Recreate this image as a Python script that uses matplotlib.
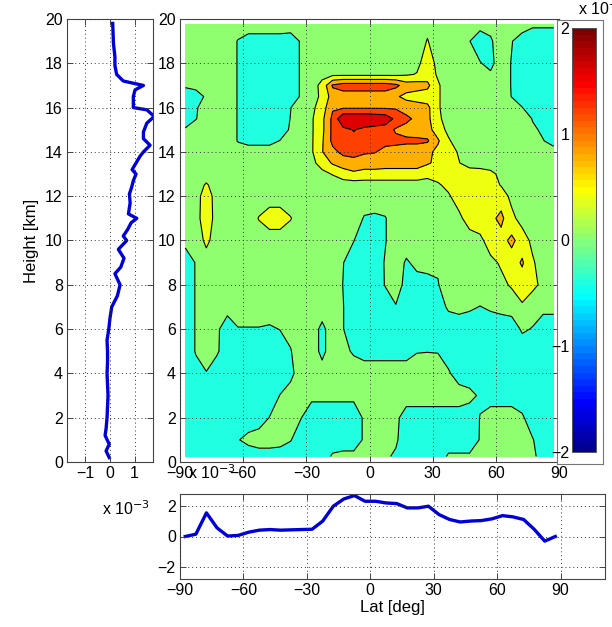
import numpy as np
import matplotlib
matplotlib.use("Agg")
import matplotlib.pyplot as plt
from matplotlib.colors import ListedColormap, Normalize
from matplotlib.cm import ScalarMappable

plt.rcParams['font.family'] = ['Liberation Sans', 'DejaVu Sans']
plt.rcParams['font.size'] = 11.5

# ---------------- data (units of 1e-3) ----------------
lat = [-87.5, -82.5, -77.5, -72.5, -67.5, -62.5, -57.5, -52.5, -47.5, -42.5,
       -37.5, -32.5, -27.5, -22.5, -17.5, -12.5, -7.5, -2.5, 2.5, 7.5,
       12.5, 17.5, 22.5, 27.5, 32.5, 37.5, 42.5, 47.5, 52.5, 57.5,
       62.5, 67.5, 72.5, 77.5, 82.5, 87.5]

height = [0.25, 1, 2, 3, 4, 5, 6, 7, 8, 9, 10, 11, 12, 12.5, 13, 13.5, 14,
          14.5, 15, 15.5, 16, 16.5, 17, 17.5, 18, 19, 19.75]

# field rows, bottom (0.25 km) to top (19.75 km), columns follow lat
field = [
    [-0.2]*14 + [0.05, 0.1, 0.1, 0.05, 0.05, 0.05, -0.05] + [-0.2]*4 + [0.05]*9 + [-0.1, -0.2],
    [-0.2]*5 + [-0.02, 0.1, 0.2, 0.2, 0.15, 0.02] + [-0.2]*6 + [0.05, 0.2, 0.2, 0.05] + [-0.2]*7 + [0.02, 0.2, 0.2, 0.1, 0.05, 0.02, -0.2, -0.2],
    [-0.2]*8 + [0.01, 0.2, 0.2, 0.01] + [-0.2]*5 + [0.05, 0.2, 0.2, 0.1] + [-0.2]*7 + [0.01, 0.2, 0.2, 0.2, 0.05] + [-0.2]*3,
    [-0.2]*9 + [0.01] + [0.08]*7 + [0.15] + [0.2]*9 + [0.1, -0.05] + [-0.2]*7,
    [-0.2, -0.1, -0.02] + [-0.2]*7 + [-0.05, 0.1, 0.2, 0.15] + [0.2]*11 + [0.05] + [-0.2]*10,
    [-0.2, 0.02, 0.2, 0.05] + [-0.2]*6 + [-0.02, 0.2, 0.2, -0.1, 0.2, 0.1, -0.05] + [-0.15]*5 + [-0.02, -0.01, -0.02] + [-0.2]*11,
    [-0.2, 0.02, 0.2, 0.05, -0.15, -0.02, -0.02, -0.02, -0.05, 0.01, 0.1, 0.2, 0.2, -0.1, 0.2, 0.01] + [-0.2]*16 + [0.05, -0.02, -0.1, -0.1],
    [-0.2, 0.02, 0.2, 0.05, 0.1] + [0.2]*10 + [0.01] + [-0.2]*4 + [-0.02] + [-0.15]*4 + [0.05, 0.1, 0.05, -0.01, 0.05, 0.1, 0.15, 0.35, 0.15, 0.05, 0.05],
    [-0.2, 0.02, 0.2, 0.1] + [0.2]*11 + [-0.01] + [-0.2]*3 + [0.02, 0.15, -0.1, -0.15, -0.1, -0.02] + [0.2]*5 + [0.3, 0.45, 0.6, 0.5, 0.3, 0.2],
    [-0.2, 0.02, 0.2, 0.15] + [0.2]*11 + [0.01] + [-0.2]*3 + [0.03, 0.2, -0.05, 0.1, 0.1, 0.05] + [0.2]*4 + [0.3, 0.45, 0.6, 0.85, 0.45, 0.2, 0.2],
    [0.1, 0.15, 0.5] + [0.2]*13 + [0.01, -0.2, -0.2, -0.02] + [0.2]*8 + [0.3, 0.6, 0.65, 0.9, 0.6, 0.3, 0.2, 0.2],
    [0.2, 0.2, 0.7] + [0.2]*4 + [0.42, 0.6, 0.6, 0.42] + [0.2]*6 + [-0.03, -0.06, -0.02] + [0.2]*6 + [0.3, 0.6, 0.65, 0.7, 0.9, 0.5, 0.25] + [0.2]*3,
    [0.2, 0.2, 0.65] + [0.2]*22 + [0.35, 0.6, 0.65, 0.65, 0.65, 0.6, 0.3] + [0.2]*4,
    [0.2, 0.2, 0.45] + [0.2]*20 + [0.25, 0.35, 0.5, 0.6, 0.6, 0.6, 0.55, 0.38] + [0.2]*5,
    [0.2]*13 + [0.3, 0.42, 0.6, 0.7] + [0.65]*6 + [0.5, 0.55, 0.6, 0.65, 0.65, 0.6, 0.5, 0.3] + [0.2]*5,
    [0.2]*12 + [0.3, 0.55, 0.85, 1.0, 1.1, 1.0, 1.0, 0.95, 0.95, 0.95, 0.95, 0.85, 0.7, 0.6, 0.42] + [0.2]*9,
    [0.2]*5 + [0.15]*5 + [0.2, 0.2, 0.35, 0.78, 1.1, 1.3, 1.3, 1.25, 1.22, 1.1, 1.05, 1.0, 1.0, 0.9, 0.7, 0.6, 0.35] + [0.2]*7 + [0.1, 0.1],
    [0.2]*5 + [-0.02] + [-0.1]*3 + [0.01, 0.2, 0.2, 0.35, 0.75, 1.3, 1.4, 1.5, 1.4, 1.35, 1.3, 1.3, 1.28, 1.28, 1.25, 0.85, 0.45] + [0.2]*8 + [0.01, -0.1],
    [0.05] + [0.2]*4 + [-0.02] + [-0.2]*4 + [0.05, 0.2, 0.35, 0.7, 1.3, 1.5, 1.62, 1.5, 1.45, 1.4, 1.15, 1.05, 1.0, 0.95, 0.6, 0.3] + [0.2]*7 + [0.05, -0.05, -0.2],
    [-0.25, -0.02] + [0.2]*3 + [-0.02] + [-0.2]*4 + [0.01, 0.2, 0.35, 0.7, 1.3, 1.95, 1.95, 1.95, 1.9, 1.85, 1.5, 1.3, 1.1, 0.9, 0.5] + [0.2]*8 + [-0.02, -0.2, -0.2],
    [-0.25, -0.05] + [0.2]*3 + [-0.02] + [-0.2]*4 + [-0.01, 0.2, 0.3, 0.6] + [1.15]*7 + [1.0, 1.0, 0.9, 0.45] + [0.2]*7 + [0.01] + [-0.2]*3,
    [-0.2, -0.15, 0.05, 0.2, 0.2, -0.02] + [-0.2]*4 + [-0.15, 0.03, 0.3, 0.45] + [1.0]*6 + [0.85, 0.7, 0.6, 0.6, 0.45] + [0.2]*6 + [-0.01] + [-0.2]*4,
    [0.05, 0.1] + [0.2]*3 + [-0.02] + [-0.2]*4 + [-0.15, 0.03, 0.25, 0.5, 1.25] + [1.4]*5 + [1.3, 1.0, 1.0, 0.9, 0.45] + [0.2]*6 + [-0.02] + [-0.2]*4,
    [0.2]*5 + [-0.02] + [-0.2]*4 + [-0.15, 0.03, 0.2] + [0.3]*8 + [0.35, 0.42, 0.6, 0.35] + [0.2]*4 + [0.05, 0.2, -0.02] + [-0.2]*4,
    [0.2]*5 + [-0.02] + [-0.2]*4 + [-0.15, 0.03] + [0.2]*10 + [0.3, 0.6, 0.3] + [0.2]*3 + [0.02, -0.1, 0.2, -0.02] + [-0.2]*4,
    [0.2]*5 + [-0.02] + [-0.08]*4 + [-0.1, 0.02] + [0.2]*11 + [0.42] + [0.2]*3 + [0.01, -0.2, -0.05, 0.2, 0.02] + [-0.2]*4,
    [0.2]*6 + [0.1]*5 + [0.2]*12 + [0.3] + [0.2]*4 + [0.12, 0.12] + [0.2]*3 + [0.05]*3,
]

profile_height = [0.2, 0.5, 0.8, 1.2, 1.5, 2, 2.5, 3, 3.5, 4, 4.5, 5, 5.5, 6, 6.5, 7,
                  7.5, 8, 8.5, 8.8, 9.2, 9.6, 10, 10.2, 10.5, 10.8, 11, 11.2, 11.7,
                  12.1, 12.4, 12.7, 13, 13.2, 13.5, 13.8, 14, 14.3, 14.6, 14.9, 15.3,
                  15.6, 15.9, 16, 16.5, 16.8, 17, 17.2, 17.5, 17.9, 18.3, 18.9, 19.8]
profile_value = [-0.03, -0.16, -0.03, -0.2, -0.16, -0.12, -0.1, -0.08, -0.1, -0.12,
                 -0.1, -0.1, -0.12, -0.05, 0.0, 0.07, 0.3, 0.41, 0.2, 0.44, 0.57, 0.34,
                 0.68, 0.54, 0.72, 0.86, 1.09, 0.75, 0.82, 0.79, 0.88, 0.95, 1.06, 0.9,
                 1.06, 1.22, 1.36, 1.63, 1.36, 1.36, 1.5, 1.8, 1.5, 0.95, 0.95, 1.02,
                 1.36, 0.54, 0.27, 0.2, 0.2, 0.14, 0.11]

zonal_value = [0.0, 0.15, 1.53, 0.56, 0.03, 0.07, 0.28, 0.41, 0.45, 0.41, 0.43, 0.45,
               0.47, 1.0, 1.96, 2.43, 2.65, 2.28, 2.28, 2.17, 2.13, 1.85, 1.85, 1.96,
               1.42, 1.1, 0.94, 1.0, 1.03, 1.14, 1.35, 1.27, 1.1, 0.47, -0.3, 0.0]

levels = [-0.4, 0.0, 0.4, 0.8, 1.2, 1.6, 2.0]
lat_ticks = [-90, -60, -30, 0, 30, 60, 90]
height_ticks = [0, 2, 4, 6, 8, 10, 12, 14, 16, 18, 20]
profile_ticks = [-1, 0, 1]
zonal_ticks = [-2, 0, 2]
cbar_ticks = [-2, -1, 0, 1, 2]


# ---------------- MATLAB jet(64) ----------------
def matlab_jet(n=64):
    m = int(np.ceil(n / 4))
    u = np.concatenate([np.arange(1, m + 1) / m, np.ones(m - 1), np.arange(m, 0, -1) / m])
    g = int(np.ceil(m / 2)) - (1 if n % 4 == 1 else 0) + np.arange(1, len(u) + 1)
    rgb = np.zeros((n, 3))
    for ch, idx in ((0, g + m), (1, g), (2, g - m)):
        keep = (idx >= 1) & (idx <= n)
        rgb[idx[keep] - 1, ch] = u[keep]
    return rgb


jet = matlab_jet(64)
cmap = ListedColormap(jet)
clim = (-2.0, 2.0)
band_colors = [jet[min(int((L - clim[0]) / (clim[1] - clim[0]) * 64), 63)] for L in levels[:-1]]

W, H = 612, 627
fig = plt.figure(figsize=(W / 100, H / 100), dpi=100)


def px_axes(x0, y0, x1, y1, **kw):
    return fig.add_axes([x0 / W, 1 - y1 / H, (x1 - x0) / W, (y1 - y0) / H], **kw)


frame_col = '#444444'
grid_kw = dict(color='#333333', linestyle=(0, (1, 3)), linewidth=0.7)


def minus(v):
    return str(v).replace('-', '\u2212')


def style(ax):
    ax.tick_params(direction='in', top=True, right=True, length=4, width=0.7,
                   colors=frame_col, labelcolor='black', labelsize=11.5, pad=3)
    for s in ax.spines.values():
        s.set_color(frame_col)
        s.set_linewidth(0.8)
    ax.grid(True, **grid_kw)
    ax.set_axisbelow(False)


# ---------------- main contour ----------------
ax = px_axes(180, 19, 559, 462)
Z = np.array(field)
ax.contourf(lat, height, Z, levels=levels, colors=band_colors)
ax.contour(lat, height, Z, levels=levels[1:-1], colors='k', linewidths=0.8)
ax.set_xlim(-90, 90)
ax.set_ylim(0, 20)
ax.set_xticks(lat_ticks)
ax.set_yticks(height_ticks)
ax.set_xticklabels([minus(t) for t in lat_ticks])
style(ax)

# ---------------- left profile ----------------
axl = px_axes(67, 19, 153, 462)
axl.plot(profile_value, profile_height, color=(0.0, 0.0, 0.85), linewidth=2.4)
axl.set_xlim(-1.75, 1.75)
axl.set_ylim(0, 20)
axl.set_xticks(profile_ticks)
axl.set_xticklabels([minus(t) for t in profile_ticks])
axl.set_yticks(height_ticks)
axl.set_ylabel('Height [km]', fontsize=12, labelpad=4)
style(axl)
fig.text(188 / W, 1 - 473 / H, 'x 10$^{-3}$', fontsize=11.5, va='center', ha='left')

# ---------------- bottom zonal ----------------
axb = px_axes(180, 494, 605, 579)
axb.plot(lat, zonal_value, color=(0.0, 0.0, 0.85), linewidth=2.4)
axb.set_xlim(-90, 111)
axb.set_ylim(-2.75, 2.75)
axb.set_xticks(lat_ticks)
axb.set_xticklabels([minus(t) for t in lat_ticks])
axb.set_yticks(zonal_ticks)
axb.set_yticklabels([minus(t) for t in zonal_ticks])
axb.set_xlabel('Lat [deg]', fontsize=12, labelpad=1)
style(axb)
fig.text(102 / W, 1 - 509 / H, 'x 10$^{-3}$', fontsize=11.5, va='center', ha='left')

# ---------------- colorbar ----------------
axf = px_axes(557, 20, 603, 464)
axf.set_xticks([])
axf.set_yticks([])
for s in axf.spines.values():
    s.set_color('#777777')
    s.set_linewidth(0.8)

cax = px_axes(572, 28, 596, 452)
cb = fig.colorbar(ScalarMappable(norm=Normalize(*clim), cmap=cmap), cax=cax)
cb.set_ticks(cbar_ticks)
cb.set_ticklabels([minus(t) for t in cbar_ticks])
cb.outline.set_edgecolor('#555555')
cb.outline.set_linewidth(0.7)
cax.yaxis.set_ticks_position('left')
cax.tick_params(direction='in', length=0, labelsize=11.5, pad=2)
fig.text(578 / W, 1 - 9 / H, 'x 10$^{-3}$', fontsize=11.5, va='center', ha='left')

fig.savefig('out.png', dpi=100)
